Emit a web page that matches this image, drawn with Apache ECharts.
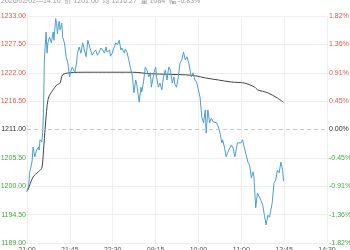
<!DOCTYPE html>
<html><head><meta charset="utf-8">
<script src="https://cdn.jsdelivr.net/npm/echarts@6/dist/echarts.min.js"></script>
<style>html,body{margin:0;padding:0;background:#fff}#c{width:350px;height:250px}</style>
</head><body><div id="c"></div>
<script>
const titleText = '2026/02/02—14:10  价 1201.00  均 1216.27  量 1084  幅 -0.83%';
const prevClose = 1211;
const xTickLabels = ['21:00','21:45','22:30','09:15','10:00','11:00','13:45','14:30'];
const priceTickLabels = ['1189.00','1194.50','1200.00','1205.50','1211.00','1216.50','1222.00','1227.50','1233.00'];
const pctTickLabels = ['-1.82%','-1.36%','-0.91%','-0.45%','0.00%','0.45%','0.91%','1.36%','1.82%'];

const priceMinutes = [0,2,3,5,6,7,8,9,11,13,14,15,17,18,19,20,21,22,23,24,26,28,30,31,33,34,35,36,37,38,40,41,43,45,47,49,50,52,55,57,58,60,62,64,66,68,70,72,74,75,77,79,81,83,85,87,89,91,92,95,96,98,100,102,104,106,108,109,112,113,115,117,119,121,123,125,126,129,131,132,134,136,138,140,142,143,146,148,149,151,153,155,157,159,161,163,165,167,169,170,172,174,176,178,180,182,184,186,188,189,191,193,195,197,199,201,203,205,206,208,210,212,214,216,218,220,222,224,225,227,229,231,233,235,237,239,241,242,244,246,248,250,252,254,256,258,260,261,263,265,267,269,271,273,275,277,279,280,282,284,286,288,290,292,294,295];
const priceValues = [1199.0,1200.2,1202.6,1204.1,1205.1,1207.6,1206.6,1205.7,1207.0,1207.6,1207.0,1209.0,1208.6,1210.3,1214.8,1224.5,1227.4,1229.9,1225.8,1227.8,1228.9,1227.8,1229.9,1228.3,1232.5,1231.5,1229.5,1231.0,1232.0,1230.3,1231.6,1228.9,1227.8,1225.1,1223.9,1221.2,1222.1,1223.1,1222.1,1223.9,1225.8,1227.0,1225.8,1227.8,1226.4,1225.1,1228.3,1227.0,1226.0,1225.4,1226.0,1226.4,1225.4,1226.0,1226.8,1226.4,1225.8,1227.0,1226.0,1226.4,1225.2,1225.8,1226.8,1227.8,1227.4,1228.3,1226.4,1226.8,1225.8,1226.6,1226.0,1224.5,1222.9,1221.6,1218.1,1220.6,1220.0,1216.3,1219.2,1218.3,1220.2,1223.1,1222.5,1221.2,1222.0,1219.2,1222.0,1223.1,1221.2,1219.2,1220.0,1218.7,1221.2,1222.5,1220.6,1223.1,1222.5,1220.0,1221.2,1219.8,1219.2,1221.2,1223.9,1224.5,1226.0,1224.5,1225.1,1223.9,1222.0,1221.2,1222.0,1220.6,1220.2,1218.7,1217.3,1213.4,1212.3,1214.8,1210.3,1214.8,1212.3,1213.2,1212.5,1212.8,1212.3,1211.5,1210.3,1208.4,1209.0,1207.6,1205.7,1206.6,1206.4,1208.0,1207.4,1205.7,1205.7,1208.4,1208.6,1208.4,1209.0,1207.4,1206.1,1204.7,1204.1,1201.6,1202.8,1201.8,1195.8,1198.7,1198.7,1197.3,1196.4,1194.4,1192.5,1194.4,1194.0,1195.0,1196.8,1200.6,1201.2,1203.1,1202.6,1204.7,1203.1,1201.0];

const avgMinutes = [0,1,7,13,17,19,21,23,25,30,34,38,41,49,68,87,106,121,143,182,194,205,220,235,250,262,265,277,288,295];
const avgValues = [1199.0,1199.3,1201.8,1202.8,1203.5,1207.0,1211.5,1215.4,1217.3,1218.7,1219.6,1220.0,1221.6,1222.0,1222.1,1222.1,1222.1,1222.1,1221.8,1221.6,1221.4,1221.0,1220.6,1220.2,1220.0,1219.2,1218.7,1218.1,1217.1,1216.27];

const FONT = '"Liberation Sans", "Noto Sans CJK SC", sans-serif';
const yMin = 1189, yMax = 1233, yStep = 5.5;
const xMax = 345, xStep = 345 / 7;
const idxOfY = v => Math.round((v - yMin) / yStep);
const colorOfY = v => {
  const i = idxOfY(v);
  return i > 4 ? '#e2574c' : (i < 4 ? '#43a843' : '#333');
};
const splitColors = ['#eeeeee','#eeeeee','#eeeeee','#eeeeee','rgba(0,0,0,0)','#eeeeee','#eeeeee','#eeeeee','#eeeeee'];

const chart = echarts.init(document.getElementById('c'), null, {renderer: 'canvas'});
chart.setOption({
  animation: false,
  textStyle: {fontFamily: FONT},
  title: {
    text: titleText, left: 1, top: -2, padding: 0,
    textStyle: {fontSize: 7, color: '#999', fontWeight: 'normal', fontFamily: FONT}
  },
  grid: {left: 27, right: 23, top: 16, bottom: 7, containLabel: false, outerBoundsMode: 'none'},
  xAxis: {
    type: 'value', min: 0, max: xMax, interval: xStep,
    axisLine: {show: false}, axisTick: {show: false},
    splitLine: {show: true, lineStyle: {color: '#eeeeee', width: 1}},
    axisLabel: {
      fontSize: 7, color: '#555', margin: 4, fontFamily: FONT,
      formatter: v => xTickLabels[Math.round(v / xStep)] || ''
    }
  },
  yAxis: [{
    type: 'value', min: yMin, max: yMax, interval: yStep, position: 'left',
    axisLine: {show: false}, axisTick: {show: false},
    splitLine: {show: true, lineStyle: {color: splitColors, width: 1}},
    axisLabel: {
      fontSize: 7, margin: 1, fontFamily: FONT,
      formatter: v => priceTickLabels[idxOfY(v)] || '',
      color: v => colorOfY(v)
    }
  }, {
    type: 'value', min: yMin, max: yMax, interval: yStep, position: 'right',
    axisLine: {show: false}, axisTick: {show: false}, splitLine: {show: false},
    axisLabel: {
      fontSize: 7, margin: 2, fontFamily: FONT,
      formatter: v => pctTickLabels[idxOfY(v)] || '',
      color: v => colorOfY(v)
    }
  }],
  series: [{
    type: 'line', name: '价', yAxisIndex: 0,
    data: priceMinutes.map((m, i) => [m, priceValues[i]]),
    showSymbol: false, symbol: 'none',
    lineStyle: {color: '#4a9fd2', width: 1},
    markLine: {
      silent: true, symbol: 'none', label: {show: false},
      lineStyle: {color: '#c8c8c8', type: [4, 3], width: 1},
      data: [{yAxis: prevClose}]
    },
    z: 3
  }, {
    type: 'line', name: '均', yAxisIndex: 0,
    data: avgMinutes.map((m, i) => [m, avgValues[i]]),
    showSymbol: false, symbol: 'none', smooth: 0.3,
    lineStyle: {color: '#444', width: 1},
    z: 2
  }]
});
</script>
</body></html>
